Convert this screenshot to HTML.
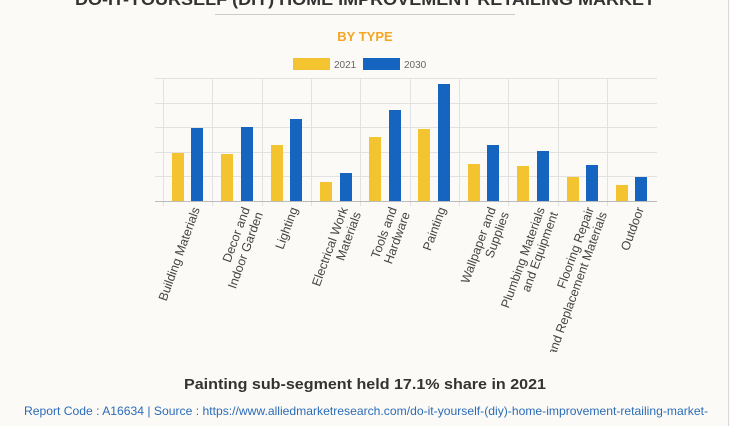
<!DOCTYPE html>
<html><head><meta charset="utf-8"><style>
html,body{margin:0;padding:0;background:#fbfaf6;}
svg{display:block;font-family:"Liberation Sans",Arial,sans-serif;}
</style></head><body>
<svg width="730" height="426" viewBox="0 0 730 426" xmlns="http://www.w3.org/2000/svg">
<defs><clipPath id="c"><rect x="0" y="0" width="730" height="352"/></clipPath></defs>
<rect width="730" height="426" fill="#fbfaf6"/>
<line x1="728.5" y1="0" x2="728.5" y2="426" stroke="#d8d8d8"/>
<text x="365" y="5" text-anchor="middle" font-size="17" font-weight="bold" fill="#333" textLength="580" lengthAdjust="spacingAndGlyphs">DO-IT-YOURSELF (DIY) HOME IMPROVEMENT RETAILING MARKET</text>
<line x1="215" y1="14.5" x2="515" y2="14.5" stroke="#ccc"/>
<text x="365" y="41" text-anchor="middle" font-size="13" font-weight="bold" fill="#f5a623">BY TYPE</text>
<rect x="293" y="58" width="37" height="12" fill="#f4c430"/>
<text x="334" y="68" font-size="10" fill="#666">2021</text>
<rect x="363" y="58" width="37" height="12" fill="#1565c0"/>
<text x="404" y="68" font-size="10" fill="#666">2030</text>
<g stroke="#e2e2e2" stroke-width="1">
<line x1="155" y1="78.5" x2="657" y2="78.5"/>
<line x1="155" y1="103.5" x2="657" y2="103.5"/>
<line x1="155" y1="127.5" x2="657" y2="127.5"/>
<line x1="155" y1="152.5" x2="657" y2="152.5"/>
<line x1="155" y1="176.5" x2="657" y2="176.5"/>
<line x1="163.5" y1="78" x2="163.5" y2="206"/>
<line x1="212.5" y1="78" x2="212.5" y2="206"/>
<line x1="262.5" y1="78" x2="262.5" y2="206"/>
<line x1="311.5" y1="78" x2="311.5" y2="206"/>
<line x1="360.5" y1="78" x2="360.5" y2="206"/>
<line x1="410.5" y1="78" x2="410.5" y2="206"/>
<line x1="459.5" y1="78" x2="459.5" y2="206"/>
<line x1="508.5" y1="78" x2="508.5" y2="206"/>
<line x1="558.5" y1="78" x2="558.5" y2="206"/>
<line x1="607.5" y1="78" x2="607.5" y2="206"/>
</g>
<g fill="#f4c430">
<rect x="172" y="153" width="12" height="48"/>
<rect x="221" y="154" width="12" height="47"/>
<rect x="271" y="145" width="12" height="56"/>
<rect x="320" y="182" width="12" height="19"/>
<rect x="369" y="137" width="12" height="64"/>
<rect x="418" y="129" width="12" height="72"/>
<rect x="468" y="164" width="12" height="37"/>
<rect x="517" y="166" width="12" height="35"/>
<rect x="567" y="177" width="12" height="24"/>
<rect x="616" y="185" width="12" height="16"/>
</g>
<g fill="#1565c0">
<rect x="191" y="128" width="12" height="73"/>
<rect x="241" y="127" width="12" height="74"/>
<rect x="290" y="119" width="12" height="82"/>
<rect x="340" y="173" width="12" height="28"/>
<rect x="389" y="110" width="12" height="91"/>
<rect x="438" y="84" width="12" height="117"/>
<rect x="487" y="145" width="12" height="56"/>
<rect x="537" y="151" width="12" height="50"/>
<rect x="586" y="165" width="12" height="36"/>
<rect x="635" y="177" width="12" height="24"/>
</g>
<line x1="155" y1="201.5" x2="657" y2="201.5" stroke="#bbb"/>
<g font-size="12.5" fill="#444" text-anchor="end" clip-path="url(#c)">
<text transform="translate(200,209) rotate(-70)">Building Materials</text>
<text transform="translate(250,209) rotate(-70)"><tspan x="0" dy="0">Decor and</tspan><tspan x="0" dy="14">Indoor Garden</tspan></text>
<text transform="translate(298,209) rotate(-70)">Lighting</text>
<text transform="translate(348,209) rotate(-70)"><tspan x="0" dy="0">Electrical Work</tspan><tspan x="0" dy="14">Materials</tspan></text>
<text transform="translate(397,209) rotate(-70)"><tspan x="0" dy="0">Tools and</tspan><tspan x="0" dy="14">Hardware</tspan></text>
<text transform="translate(446,209) rotate(-70)">Painting</text>
<text transform="translate(496,209) rotate(-70)"><tspan x="0" dy="0">Wallpaper and</tspan><tspan x="0" dy="14">Supplies</tspan></text>
<text transform="translate(545,209) rotate(-70)"><tspan x="0" dy="0">Plumbing Materials</tspan><tspan x="0" dy="14">and Equipment</tspan></text>
<text transform="translate(594,209) rotate(-70)"><tspan x="0" dy="0">Flooring Repair</tspan><tspan x="0" dy="14">and Replacement Materials</tspan></text>
<text transform="translate(644,209) rotate(-70)">Outdoor</text>
</g>
<text x="365" y="389" text-anchor="middle" font-size="15" font-weight="bold" fill="#333" textLength="362" lengthAdjust="spacingAndGlyphs">Painting sub-segment held 17.1% share in 2021</text>
<text x="24" y="415" font-size="12" fill="#2b6cb8" textLength="684" lengthAdjust="spacingAndGlyphs">Report Code : A16634  |  Source : https://www.alliedmarketresearch.com/do-it-yourself-(diy)-home-improvement-retailing-market-</text>
</svg>
</body></html>
